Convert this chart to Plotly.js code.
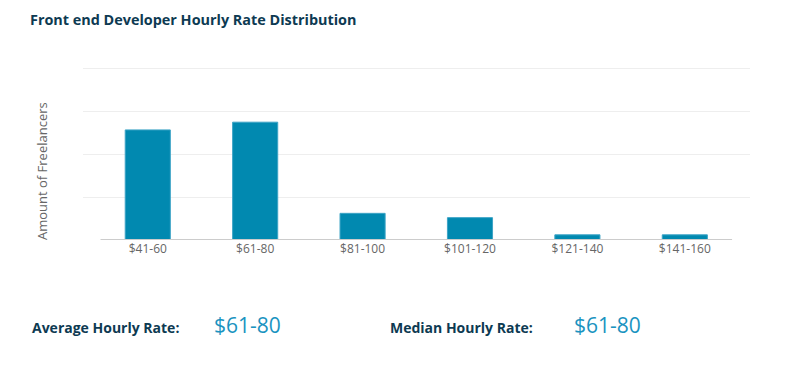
<!DOCTYPE html>
<html>
<head>
<meta charset="utf-8">
<script src="https://cdn.plot.ly/plotly-3.0.1.min.js"></script>
<style>
html,body{margin:0;padding:0;background:#fff;}
#chart{width:785px;height:367px;}
</style>
</head>
<body>
<div id="chart"></div>
<script>
const categories = ["$41-60", "$61-80", "$81-100", "$101-120", "$121-140", "$141-160"];
const freelancers = [128, 137, 31, 26, 6, 6];
const chartTitle = "Front end Developer Hourly Rate Distribution";
const yTitle = "Amount of Freelancers";
const averageLabel = "Average Hourly Rate:";
const averageValue = "$61-80";
const medianLabel = "Median Hourly Rate:";
const medianValue = "$61-80";

const navy = "#0d3a52";
const teal = "#0189b0";
const font = "'Open Sans', 'Noto Sans', sans-serif";

const W = 785, H = 367;
const mL = 83, mR = 35, mT = 60, mB = 127;
const pw = W - mL - mR, ph = H - mT - mB;
const px = x => (x - mL) / pw;
const py = y => (H - mB - y) / ph;
const yTop = 200 * ph / (H - mB - 68);

const trace = {
  type: "bar",
  x: categories,
  y: freelancers,
  width: 0.42,
  marker: {color: teal, line: {color: "#3da4c6", width: 1}},
  hoverinfo: "x+y"
};

const layout = {
  width: W,
  height: H,
  margin: {l: mL, r: mR, t: mT, b: mB, pad: 0},
  paper_bgcolor: "#ffffff",
  plot_bgcolor: "#ffffff",
  font: {family: font, color: "#666666", size: 12},
  showlegend: false,
  title: {
    text: "<b>" + chartTitle + "</b>",
    x: 30 / W, xref: "container", xanchor: "left",
    y: 1 - 20 / H, yref: "container", yanchor: "middle",
    font: {family: font, size: 14.4, color: navy}
  },
  xaxis: {
    type: "category",
    range: [-0.603, 5.607],
    showgrid: false,
    zeroline: false,
    showline: false,
    ticks: "",
    tickfont: {family: font, size: 12, color: "#666666"},
    fixedrange: true
  },
  yaxis: {
    range: [0, yTop],
    tickvals: [0, 50, 100, 150, 200],
    showticklabels: false,
    showgrid: true,
    gridcolor: "#eeeeee",
    gridwidth: 1,
    zeroline: false,
    showline: false,
    ticks: "",
    fixedrange: true
  },
  shapes: [
    {type: "line", xref: "x", yref: "y", x0: -0.44, x1: 5.44, y0: 0, y1: 0,
     line: {color: "#cccccc", width: 2}, layer: "above"}
  ],
  annotations: [
    {text: yTitle, xref: "paper", yref: "paper", x: px(42), y: py(171),
     xanchor: "center", yanchor: "middle", textangle: -90, showarrow: false,
     font: {family: font, size: 13, color: "#666666"}},
    {text: "<b>" + averageLabel + "</b>", xref: "paper", yref: "paper",
     x: px(30), y: py(327), xanchor: "left", yanchor: "middle", showarrow: false,
     font: {family: font, size: 14, color: navy}},
    {text: averageValue, xref: "paper", yref: "paper",
     x: px(212), y: py(325), xanchor: "left", yanchor: "middle", showarrow: false,
     font: {family: font, size: 21, color: "#1a93c0"}},
    {text: "<b>" + medianLabel + "</b>", xref: "paper", yref: "paper",
     x: px(388), y: py(327), xanchor: "left", yanchor: "middle", showarrow: false,
     font: {family: font, size: 14, color: navy}},
    {text: medianValue, xref: "paper", yref: "paper",
     x: px(572), y: py(325), xanchor: "left", yanchor: "middle", showarrow: false,
     font: {family: font, size: 21, color: "#1a93c0"}}
  ]
};

Plotly.newPlot("chart", [trace], layout, {displayModeBar: false, staticPlot: true});
</script>
</body>
</html>
